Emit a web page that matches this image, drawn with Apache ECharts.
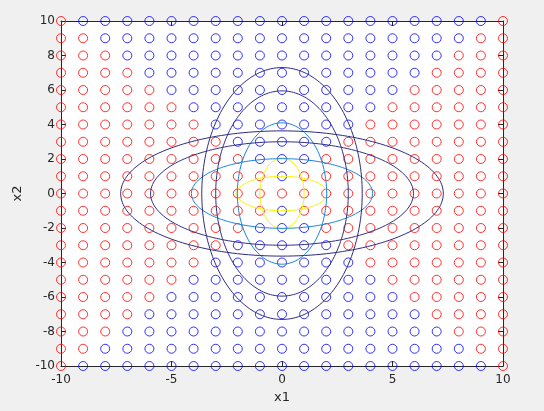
<!DOCTYPE html>
<html>
<head>
<meta charset="utf-8">
<script src="https://cdn.jsdelivr.net/npm/echarts@6/dist/echarts.min.js"></script>
<style>
html,body{margin:0;padding:0;background:#f0f0f0;}
#main{width:544px;height:411px;}
</style>
</head>
<body>
<div id="main"></div>
<script>
// grid coordinates (x1 and x2 values of the sample points)
const gridX = [-10,-9,-8,-7,-6,-5,-4,-3,-2,-1,0,1,2,3,4,5,6,7,8,9,10];
const gridY = [10,9,8,7,6,5,4,3,2,1,0,-1,-2,-3,-4,-5,-6,-7,-8,-9,-10];
// class of each point, row by row (top row x2=10 ... bottom row x2=-10), r = red, b = blue
const classRows = [
  "rbbbbbbbbbbbbbbbbbbbr",
  "rrbbbbbbbbbbbbbbbbbrr",
  "rrrbbbbbbbbbbbbbbbrrr",
  "rrrrbbbbbbbbbbbbbrrrr",
  "rrrrrbbbbbbbbbbbrrrrr",
  "rrrrrrbbbbbbbbbrrrrrr",
  "rrrrrrrbbbbbbbrrrrrrr",
  "rrrrrrrrbbbbbrrrrrrrr",
  "rrrrrrrrrbbbrrrrrrrrr",
  "rrrrrrrrrrbrrrrrrrrrr",
  "rrrrrrrrrrrrrrrrrrrrr",
  "rrrrrrrrrrbrrrrrrrrrr",
  "rrrrrrrrrbbbrrrrrrrrr",
  "rrrrrrrrbbbbbrrrrrrrr",
  "rrrrrrrbbbbbbbrrrrrrr",
  "rrrrrrbbbbbbbbbrrrrrr",
  "rrrrrbbbbbbbbbbbrrrrr",
  "rrrrbbbbbbbbbbbbbrrrr",
  "rrrbbbbbbbbbbbbbbbrrr",
  "rrbbbbbbbbbbbbbbbbbrr",
  "rbbbbbbbbbbbbbbbbbbbr"
];
// contour ellipses (semi-axes), horizontal family and vertical family
const contourSemiMajor = [2.05, 4.1, 5.95, 7.3];
const contourSemiMinor = [1.0, 2.02, 3.0, 3.63];
const contourColors = ['#f5f50a', '#1a86dc', '#332f88', '#2e2b80'];
const xTickLabels = [-10, -5, 0, 5, 10];
const yTickLabels = [-10, -8, -6, -4, -2, 0, 2, 4, 6, 8, 10];

const redPts = [], bluePts = [];
classRows.forEach((row, i) => {
  for (let j = 0; j < gridX.length; j++) {
    const c = row[j];
    if (c === 'b') bluePts.push([gridX[j], gridY[i]]);
    else if (c === 'r') redPts.push([gridX[j], gridY[i]]);
  }
});

function ellipse(ax, ay) {
  const pts = [];
  const n = 180;
  for (let k = 0; k <= n; k++) {
    const t = 2 * Math.PI * k / n;
    pts.push([ax * Math.cos(t), ay * Math.sin(t)]);
  }
  return pts;
}

const series = [
  {type:'scatter', data:redPts, symbol:'circle', symbolSize:9, clip:false,
   itemStyle:{color:'rgba(0,0,0,0)', borderColor:'#ff0000', borderWidth:1}, z:2, silent:true},
  {type:'scatter', data:bluePts, symbol:'circle', symbolSize:9, clip:false,
   itemStyle:{color:'rgba(0,0,0,0)', borderColor:'#0000ff', borderWidth:1}, z:2, silent:true}
];
contourSemiMajor.forEach((A, i) => {
  const B = contourSemiMinor[i];
  [ellipse(A, B), ellipse(B, A)].forEach(d => {
    series.push({type:'line', data:d, showSymbol:false, symbol:'none', smooth:false,
      lineStyle:{color:contourColors[i], width:1}, z:3, silent:true, animation:false});
  });
});

const axisCol = '#262626';
const chart = echarts.init(document.getElementById('main'));
chart.setOption({
  animation:false,
  backgroundColor:'#f0f0f0',
  grid:{left:61, right:41, top:21, bottom:45, show:true, backgroundColor:'#ffffff', borderWidth:0},
  xAxis:[
    {type:'value', min:-10, max:10, interval:5, position:'bottom',
     axisLine:{onZero:false, lineStyle:{color:axisCol, width:1}},
     axisTick:{inside:true, length:5, lineStyle:{color:axisCol}},
     axisLabel:{color:axisCol, fontSize:12, margin:8, fontFamily:'DejaVu Sans',
       formatter:v => xTickLabels.includes(v) ? String(v) : ''},
     splitLine:{show:false},
     name:'x1', nameLocation:'middle', nameGap:25,
     nameTextStyle:{color:axisCol, fontSize:13, fontFamily:'DejaVu Sans'}},
    {type:'value', min:-10, max:10, interval:5, position:'top',
     axisLine:{onZero:false, lineStyle:{color:axisCol, width:1}},
     axisTick:{inside:true, length:5, lineStyle:{color:axisCol}},
     axisLabel:{show:false}, splitLine:{show:false}}
  ],
  yAxis:[
    {type:'value', min:-10, max:10, interval:2, position:'left',
     axisLine:{onZero:false, lineStyle:{color:axisCol, width:1}},
     axisTick:{inside:true, length:5, lineStyle:{color:axisCol}},
     axisLabel:{color:axisCol, fontSize:12, margin:6, fontFamily:'DejaVu Sans',
       formatter:v => yTickLabels.includes(v) ? String(v) : ''},
     splitLine:{show:false},
     name:'x2', nameLocation:'middle', nameGap:33,
     nameTextStyle:{color:axisCol, fontSize:13, fontFamily:'DejaVu Sans'}},
    {type:'value', min:-10, max:10, interval:2, position:'right',
     axisLine:{onZero:false, lineStyle:{color:axisCol, width:1}},
     axisTick:{inside:true, length:5, lineStyle:{color:axisCol}},
     axisLabel:{show:false}, splitLine:{show:false}}
  ],
  series:series
});
</script>
</body>
</html>
